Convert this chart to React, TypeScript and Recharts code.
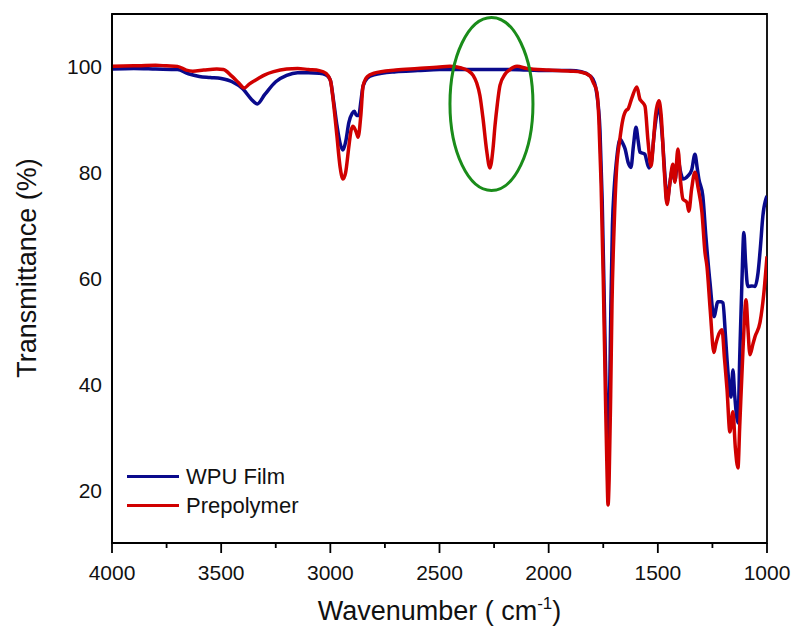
import React from 'react';
import {
  LineChart, Line, XAxis, YAxis, ReferenceDot, ReferenceArea
} from 'recharts';

// [wavenumber, transmittance]
const wpuFilm: [number, number][] = [
  [4000, 99.6], [3900, 99.7], [3800, 99.6], [3700, 99.5], [3650, 98.7], [3600, 98.2],
  [3550, 98.0], [3500, 97.8], [3450, 97.2], [3400, 95.8], [3360, 93.8], [3335, 93.0],
  [3300, 94.8], [3250, 97.2], [3200, 98.4], [3150, 98.9], [3100, 98.9], [3050, 98.8],
  [3020, 98.5], [3000, 97.5], [2985, 93.5], [2970, 89], [2955, 85.5], [2942, 84.3],
  [2930, 85.8], [2915, 89.5], [2900, 91.2], [2890, 91.6], [2880, 90.8], [2870, 90.8],
  [2860, 93.5], [2850, 96.4], [2830, 97.9], [2800, 98.5], [2700, 99.1], [2600, 99.3],
  [2500, 99.5], [2400, 99.5], [2300, 99.5], [2200, 99.5], [2100, 99.4], [2000, 99.3],
  [1900, 99.3], [1850, 99.1], [1810, 98.3], [1790, 97], [1780, 95], [1765, 88],
  [1755, 75], [1745, 55], [1738, 40], [1730, 30], [1727, 29], [1722, 35], [1715, 55],
  [1708, 70], [1700, 77], [1690, 82], [1673, 86.3], [1660, 85.5], [1650, 84.5],
  [1635, 81.8], [1623, 81], [1612, 85], [1600, 88.6], [1590, 86], [1582, 83.9],
  [1560, 83.5], [1541, 80.9], [1530, 82], [1515, 88], [1495, 92.5], [1480, 87],
  [1465, 78], [1458, 74.5], [1445, 78], [1431, 81], [1422, 78.5], [1408, 82.5],
  [1395, 80], [1385, 78.8], [1362, 79.4], [1345, 80.5], [1330, 83.5], [1320, 81],
  [1312, 78.8], [1294, 75.6], [1280, 68], [1261, 59.2], [1243, 52.8], [1225, 55.6],
  [1210, 55.6], [1202, 55.4], [1190, 49], [1183, 44.6], [1170, 38.5], [1165, 37.6],
  [1156, 42.7], [1148, 38], [1133, 32.7], [1125, 45], [1115, 59.2], [1106, 68.7],
  [1098, 63], [1088, 58.5], [1070, 58.6], [1055, 58.5], [1041, 61.1], [1030, 66],
  [1019, 71.8], [1000, 75.6],
];

const prepolymer: [number, number][] = [
  [4000, 100.1], [3900, 100.2], [3800, 100.3], [3750, 100.2], [3700, 100.1], [3660, 99.4],
  [3630, 99.2], [3580, 99.4], [3520, 99.6], [3490, 99.5], [3450, 98.2], [3420, 97],
  [3395, 96.0], [3370, 96.8], [3330, 97.8], [3300, 98.5], [3260, 99.1], [3200, 99.6],
  [3150, 99.7], [3100, 99.5], [3050, 99.3], [3020, 98.8], [3000, 97.5], [2985, 93],
  [2970, 87], [2955, 81], [2942, 78.8], [2930, 80], [2915, 85], [2905, 88], [2896, 88.8],
  [2880, 87.5], [2873, 86.7], [2860, 91], [2850, 96.4], [2830, 98.2], [2800, 98.8],
  [2700, 99.4], [2600, 99.7], [2500, 100], [2452, 100.1], [2400, 99.8], [2370, 99.3],
  [2346, 98.4], [2330, 97], [2315, 94.6], [2300, 90], [2285, 84.5], [2269, 80.9],
  [2255, 84.5], [2246, 88.8], [2235, 93], [2223, 96.5], [2200, 98.6], [2180, 99.4],
  [2145, 100.1], [2100, 99.7], [2000, 99.4], [1900, 99.2], [1850, 99.0], [1811, 98.3],
  [1795, 97], [1779, 95.2], [1770, 90], [1760, 78], [1750, 60], [1740, 38], [1733, 24],
  [1728, 17.2], [1723, 22], [1716, 38], [1710, 55], [1700, 70], [1690, 80], [1675, 86],
  [1660, 90.1], [1645, 91.8], [1637, 92], [1620, 94], [1596, 96.2], [1582, 93.9],
  [1575, 93.5], [1559, 92.6], [1545, 86], [1531, 81.2], [1520, 86], [1510, 91],
  [1495, 93.6], [1485, 91], [1470, 80], [1458, 74], [1445, 78], [1431, 81.6],
  [1422, 78.2], [1408, 84.5], [1395, 78], [1385, 75], [1367, 74.4], [1358, 72.7],
  [1345, 77], [1330, 80.1], [1315, 77], [1298, 72.5], [1284, 64.9], [1275, 62.3],
  [1260, 54], [1243, 46], [1235, 47.5], [1225, 49], [1206, 50.3], [1195, 45],
  [1183, 39], [1170, 31], [1156, 34.8], [1145, 28], [1133, 24.2], [1125, 32],
  [1110, 46.5], [1096, 56], [1088, 51], [1078, 45.6], [1065, 47.5], [1055, 49],
  [1032, 51.7], [1015, 57], [1000, 64.2],
];

const xTicks = [1000, 1250, 1500, 1750, 2000, 2250, 2500, 2750, 3000, 3250, 3500, 3750, 4000];
const yTicks = [20, 40, 60, 80, 100];
const nco = { wn: 2262, t: 93 };

const FONT = '"Liberation Sans", Arial, sans-serif';
const BLUE = '#0a0a8c';
const RED = '#d00000';

const toRows = (arr: [number, number][]) => arr.map(([wn, t]) => ({ wn, t }));

const XTick = (props: any) => {
  const { x, y, payload } = props;
  const major = payload.value % 500 === 0;
  const axisY = y - 22;
  return (
    <g>
      <line x1={x} x2={x} y1={axisY} y2={axisY + (major ? 10 : 5)} stroke="#000" strokeWidth={1.8} />
      {major && (
        <text x={x} y={y + 15} textAnchor="middle" fill="#111" fontSize={21} fontFamily={FONT}>
          {payload.value}
        </text>
      )}
    </g>
  );
};

const XTitle = (props: any) => {
  const vb = props.viewBox;
  return (
    <text x={vb.x + vb.width / 2} y={vb.y + 77} textAnchor="middle" fill="#111" fontSize={27} fontFamily={FONT}>
      Wavenumber ( cm<tspan fontSize={17} dy={-11}>-1</tspan><tspan dy={11}>)</tspan>
    </text>
  );
};

const YTitle = () => (
  <text x={36} y={268} transform="rotate(-90 36 268)" textAnchor="middle" fill="#111" fontSize={27} fontFamily={FONT}>
    Transmittance (%)
  </text>
);

const legendItems = [{ name: 'WPU Film', c: BLUE }, { name: 'Prepolymer', c: RED }];

const LegendBox = () => (
  <div style={{ position: 'absolute', left: 127, top: 462, fontFamily: FONT, fontSize: 22, color: '#111' }}>
    {legendItems.map(it => (
      <div key={it.name} style={{ display: 'flex', alignItems: 'center', height: 29 }}>
        <div style={{ width: 52, height: 3.5, background: it.c, marginRight: 7 }} />
        <span>{it.name}</span>
      </div>
    ))}
  </div>
);

export default function App() {
  return (
    <div style={{ position: 'absolute', left: 0, top: 0, width: 792, height: 627, background: '#fff' }}>
      <LineChart width={792} height={627} margin={{ top: 14, right: 25, left: 0, bottom: 0 }}>
        <XAxis
          dataKey="wn" type="number" domain={[1000, 4000]} reversed allowDataOverflow
          ticks={xTicks} interval={0} tick={<XTick />} tickLine={false}
          tickSize={10} tickMargin={12} height={84}
          axisLine={{ stroke: '#000', strokeWidth: 1.8 }}
          label={{ content: <XTitle /> }}
        />
        <YAxis
          type="number" domain={[10, 110]} ticks={yTicks} allowDataOverflow width={112}
          tickLine={false} tickSize={0} tickMargin={10}
          tick={{ fontSize: 21, fill: '#111', fontFamily: FONT }}
          axisLine={{ stroke: '#000', strokeWidth: 1.8 }}
          label={{ content: <YTitle /> }}
        />
        <ReferenceArea x1={4000} x2={1000} y1={10} y2={110} fill="none" stroke="#000" strokeWidth={1.8} ifOverflow="visible" />
        <Line data={toRows(wpuFilm)} dataKey="t" name="WPU Film" type="monotone" stroke={BLUE}
          strokeWidth={3.5} dot={false} isAnimationActive={false} />
        <Line data={toRows(prepolymer)} dataKey="t" name="Prepolymer" type="monotone" stroke={RED}
          strokeWidth={3.5} dot={false} isAnimationActive={false} />
        <ReferenceDot x={nco.wn} y={nco.t} ifOverflow="visible"
          shape={(p: any) => (
            <ellipse cx={p.cx} cy={p.cy} rx={41.5} ry={86.5} fill="none" stroke="#1a8c1a" strokeWidth={3} />
          )}
        />
      </LineChart>
      <LegendBox />
    </div>
  );
}
